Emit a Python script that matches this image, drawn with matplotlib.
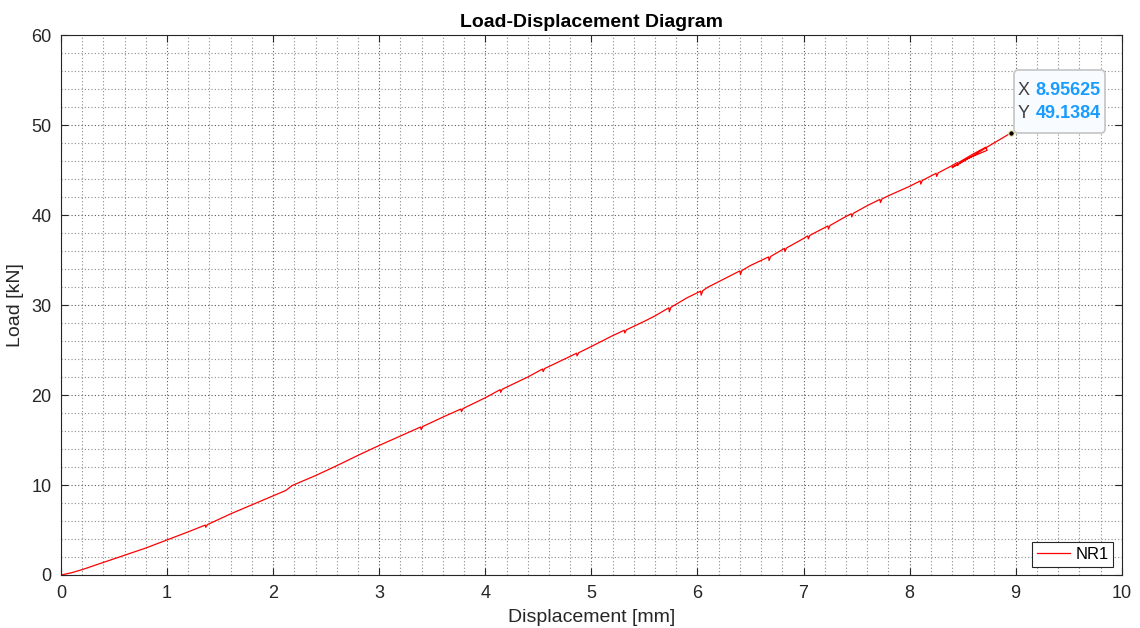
import matplotlib
matplotlib.use("Agg")
from matplotlib import pyplot as plt
from matplotlib.offsetbox import TextArea, HPacker, VPacker, DrawingArea, AnnotationBbox
from matplotlib.ticker import MultipleLocator

plt.rcParams['font.family'] = ['Liberation Sans', 'DejaVu Sans']

# measured curve, specimen NR1
disp_mm = [
	0.00, 0.10, 0.20, 0.30, 0.40, 0.50, 0.60, 0.80, 1.00, 1.20,
	1.36, 1.365, 1.38, 1.60, 1.80, 2.00, 2.12, 2.18, 2.20, 2.40,
	2.60, 2.80, 3.00, 3.20, 3.39, 3.395, 3.41, 3.60, 3.77, 3.775,
	3.79, 4.00, 4.14, 4.145, 4.16, 4.40, 4.54, 4.545, 4.56, 4.80,
	4.86, 4.865, 4.88, 5.00, 5.20, 5.31, 5.315, 5.33, 5.50, 5.60,
	5.73, 5.735, 5.75, 5.90, 6.03, 6.035, 6.05, 6.10, 6.30, 6.40,
	6.405, 6.42, 6.50, 6.67, 6.675, 6.69, 6.82, 6.825, 6.84, 7.00,
	7.04, 7.045, 7.06, 7.23, 7.235, 7.25, 7.40, 7.45, 7.455, 7.47,
	7.60, 7.72, 7.725, 7.74, 7.80, 8.00, 8.10, 8.105, 8.12, 8.25,
	8.255, 8.27, 8.40, 8.45, 8.455, 8.47, 8.60, 8.72, 8.73, 8.55,
	8.40, 8.42, 8.60, 8.75, 8.80, 8.95625,
]
load_kn = [
	0.00, 0.25, 0.60, 1.00, 1.40, 1.80, 2.20, 3.00, 3.90, 4.80,
	5.55, 5.30, 5.60, 6.80, 7.80, 8.80, 9.40, 9.95, 10.05, 11.05,
	12.15, 13.30, 14.40, 15.45, 16.45, 16.15, 16.50, 17.55, 18.45, 18.15,
	18.50, 19.70, 20.60, 20.30, 20.65, 22.00, 22.90, 22.60, 22.95, 24.30,
	24.65, 24.35, 24.70, 25.40, 26.60, 27.20, 26.90, 27.25, 28.20, 28.80,
	29.70, 29.25, 29.75, 30.80, 31.55, 31.10, 31.60, 32.00, 33.20, 33.80,
	33.40, 33.85, 34.40, 35.35, 34.95, 35.40, 36.30, 35.95, 36.35, 37.40,
	37.70, 37.35, 37.75, 38.80, 38.45, 38.85, 39.85, 40.15, 39.80, 40.20,
	41.05, 41.75, 41.40, 41.80, 42.15, 43.20, 43.80, 43.45, 43.85, 44.65,
	44.30, 44.70, 45.50, 45.85, 45.50, 45.90, 46.80, 47.55, 47.20, 46.30,
	45.30, 45.40, 46.60, 47.70, 48.05, 49.1384,
]
tip_x = 8.95625
tip_y = 49.1384

fig = plt.figure(figsize=(11.4, 6.28), dpi=100)
ax = fig.add_axes([0.0535, 0.0844, 0.9305, 0.8596])

ax.plot(disp_mm, load_kn, color="red", lw=0.9, label="NR1")
ax.set_xlim(0, 10)
ax.set_ylim(0, 60)
ax.xaxis.set_major_locator(MultipleLocator(1))
ax.yaxis.set_major_locator(MultipleLocator(10))
ax.xaxis.set_minor_locator(MultipleLocator(0.2))
ax.yaxis.set_minor_locator(MultipleLocator(2))
ax.grid(which="major", color="0.35", linestyle=(0, (1, 2)), lw=0.8)
ax.grid(which="minor", color="0.55", linestyle=(0, (1, 2)), lw=0.8)
ax.tick_params(which="major", direction="in", length=5, width=0.8, top=True, right=True,
	labelsize=13, colors="0.15", pad=7)
ax.tick_params(which="minor", length=0)
for s in ax.spines.values():
	s.set_color("0.15")
	s.set_linewidth(0.8)

ax.set_xlabel("Displacement [mm]", fontsize=14, color="0.15", labelpad=5)
ax.set_ylabel("Load [kN]", fontsize=14, color="0.15", labelpad=5)
ax.set_title("Load-Displacement Diagram", fontsize=14, fontweight="bold", pad=6)

leg = ax.legend(loc="lower right", fontsize=12, fancybox=False, framealpha=1,
	edgecolor="0.15", handlelength=2.0, handletextpad=0.3, borderaxespad=0.5,
	borderpad=0.3)
leg.get_frame().set_linewidth(0.8)

# data tip
ax.plot([tip_x], [tip_y], "o", color="black", ms=4, mec="#f3eeb0", mew=0.8, zorder=5)
blue = "#1a9cff"
rows = [DrawingArea(1, 1)]
for lab, val in (("X", "8.95625"), ("Y", "49.1384")):
	rows.append(HPacker(children=[
		TextArea(lab, textprops=dict(color="0.25", fontsize=13)),
		TextArea(val, textprops=dict(color=blue, fontsize=13, fontweight="bold")),
	], pad=0, sep=4))
rows.append(DrawingArea(1, 0))
box = VPacker(children=rows, pad=0, sep=4.5, align="left")
ab = AnnotationBbox(box, (tip_x, tip_y), xybox=(5, 3), boxcoords="offset points",
	box_alignment=(0, 0), pad=0.3, frameon=True,
	bboxprops=dict(boxstyle="round,pad=0.3,rounding_size=0.3", fc="#f8fbff", ec="#c4c4c4", lw=1.2))
ax.add_artist(ab)

fig.savefig("out.png", dpi=100)
